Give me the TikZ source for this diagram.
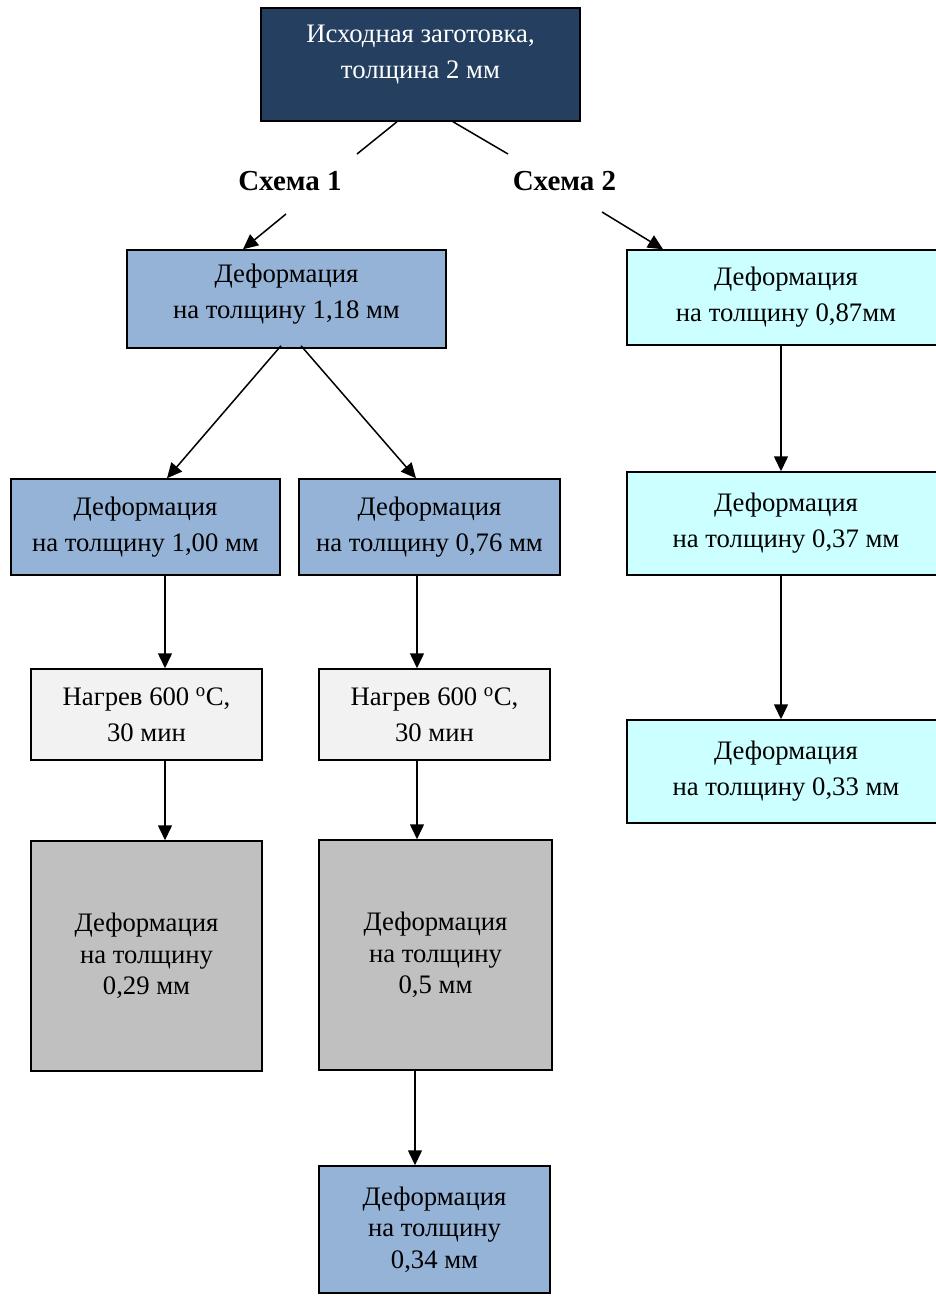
\documentclass[tikz,border=0pt]{standalone}
\usepackage{fontspec}
\setmainfont{Liberation Serif}
\usetikzlibrary{arrows.meta}
\definecolor{deep navy}{rgb}{0.1412, 0.2471, 0.3765}
\definecolor{steel blue}{rgb}{0.5843, 0.7020, 0.8431}
\definecolor{pale cyan}{rgb}{0.8, 1, 1}
\definecolor{pale gray}{rgb}{0.949, 0.949, 0.949}
\definecolor{mid gray}{rgb}{0.7529, 0.7529, 0.7529}
\tikzset{
	box/.style = {draw, line width=1.5pt, align=center, inner sep=0pt,
		font=\fontsize{26.7}{36}\selectfont},
	tall box/.style = {box, font=\fontsize{26.7}{31.5}\selectfont},
	scheme/.style = {font=\fontsize{29}{32}\selectfont\bfseries},
	flow/.style = {line width=1.5pt, -{Triangle[length=15pt, width=14pt]}},
	plain/.style = {line width=1.5pt}
}

\begin{document}
\begin{tikzpicture}[x=1pt, y=-1pt]
		\useasboundingbox (0, 0) rectangle (936, 1296);
		\clip (0, 0) rectangle (936, 1296);
		% start
		\node[box, fill=deep navy, text=white, minimum width=319pt, minimum height=113pt, text depth=26pt]
			(init) at (420.5, 64.5) {Исходная заготовка,\\толщина 2 мм};
		\node[scheme] (s1) at (290, 181) {Схема 1};
		\node[scheme] (s2) at (564.5, 181) {Схема 2};
		\coordinate (s1top) at (357, 154);
		\coordinate (s1bot) at (286, 214);
		\coordinate (s2top) at (508, 154);
		\coordinate (s2bot) at (602, 212);
		% scheme 1
		\node[box, fill=steel blue, minimum width=319pt, minimum height=98pt, text depth=16pt]
			(d118) at (286.5, 299) {Деформация\\на толщину 1,18 мм};
		\node[box, fill=steel blue, minimum width=269pt, minimum height=96pt]
			(d100) at (145.5, 527) {Деформация\\на толщину 1,00 мм};
		\node[box, fill=steel blue, minimum width=261pt, minimum height=96pt]
			(d076) at (429.5, 527) {Деформация\\на толщину 0,76 мм};
		\node[box, fill=pale gray, minimum width=231pt, minimum height=91pt]
			(heat1) at (146.5, 714.5) {Нагрев 600 \textsuperscript{o}C,\\30 мин};
		\node[box, fill=pale gray, minimum width=231pt, minimum height=91pt]
			(heat2) at (434.5, 714.5) {Нагрев 600 \textsuperscript{o}C,\\30 мин};
		\node[tall box, fill=mid gray, minimum width=231pt, minimum height=230pt]
			(d029) at (146.5, 956) {Деформация\\на толщину\\0,29 мм};
		\node[tall box, fill=mid gray, minimum width=233pt, minimum height=230pt]
			(d050) at (435.5, 955) {Деформация\\на толщину\\0,5 мм};
		\node[tall box, fill=steel blue, minimum width=231pt, minimum height=127pt]
			(d034) at (434.5, 1229.5) {Деформация\\на толщину\\0,34 мм};
		% scheme 2
		\node[box, fill=pale cyan, minimum width=318pt, minimum height=95pt]
			(d087) at (786, 297.5) {Деформация\\на толщину 0,87мм};
		\node[box, fill=pale cyan, minimum width=318pt, minimum height=103pt]
			(d037) at (786, 523.5) {Деформация\\на толщину 0,37 мм};
		\node[box, fill=pale cyan, minimum width=318pt, minimum height=103pt]
			(d033) at (786, 771.5) {Деформация\\на толщину 0,33 мм};
		% links
		\draw[plain] ([xshift=-23.5pt]init.south) -- (s1top);
		\draw[plain] ([xshift=32.5pt]init.south) -- (s2top);
		\draw[flow] (s1bot) -- ([xshift=-43.5pt]d118.north);
		\draw[flow] (s2bot) -- ([xshift=-123pt]d087.north);
		\draw[flow] ([xshift=-5.5pt, yshift=3pt]d118.south) -- ([xshift=21.5pt]d100.north);
		\draw[flow] ([xshift=14.5pt, yshift=3pt]d118.south) -- ([xshift=-13.5pt]d076.north);
		\draw[flow] ([xshift=19.5pt]d100.south) -- ([xshift=18.5pt]heat1.north);
		\draw[flow] ([xshift=-12.5pt]d076.south) -- ([xshift=-17.5pt]heat2.north);
		\draw[flow] ([xshift=18.5pt]heat1.south) -- ([xshift=18.5pt]d029.north);
		\draw[flow] ([xshift=-17.5pt]heat2.south) -- ([xshift=-18.5pt]d050.north);
		\draw[flow] ([xshift=-20.5pt]d050.south) -- ([xshift=-19.5pt]d034.north);
		\draw[flow] ([xshift=-5pt]d087.south) -- ([xshift=-5pt]d037.north);
		\draw[flow] ([xshift=-5pt]d037.south) -- ([xshift=-5pt]d033.north);
	\end{tikzpicture}
\end{document}
